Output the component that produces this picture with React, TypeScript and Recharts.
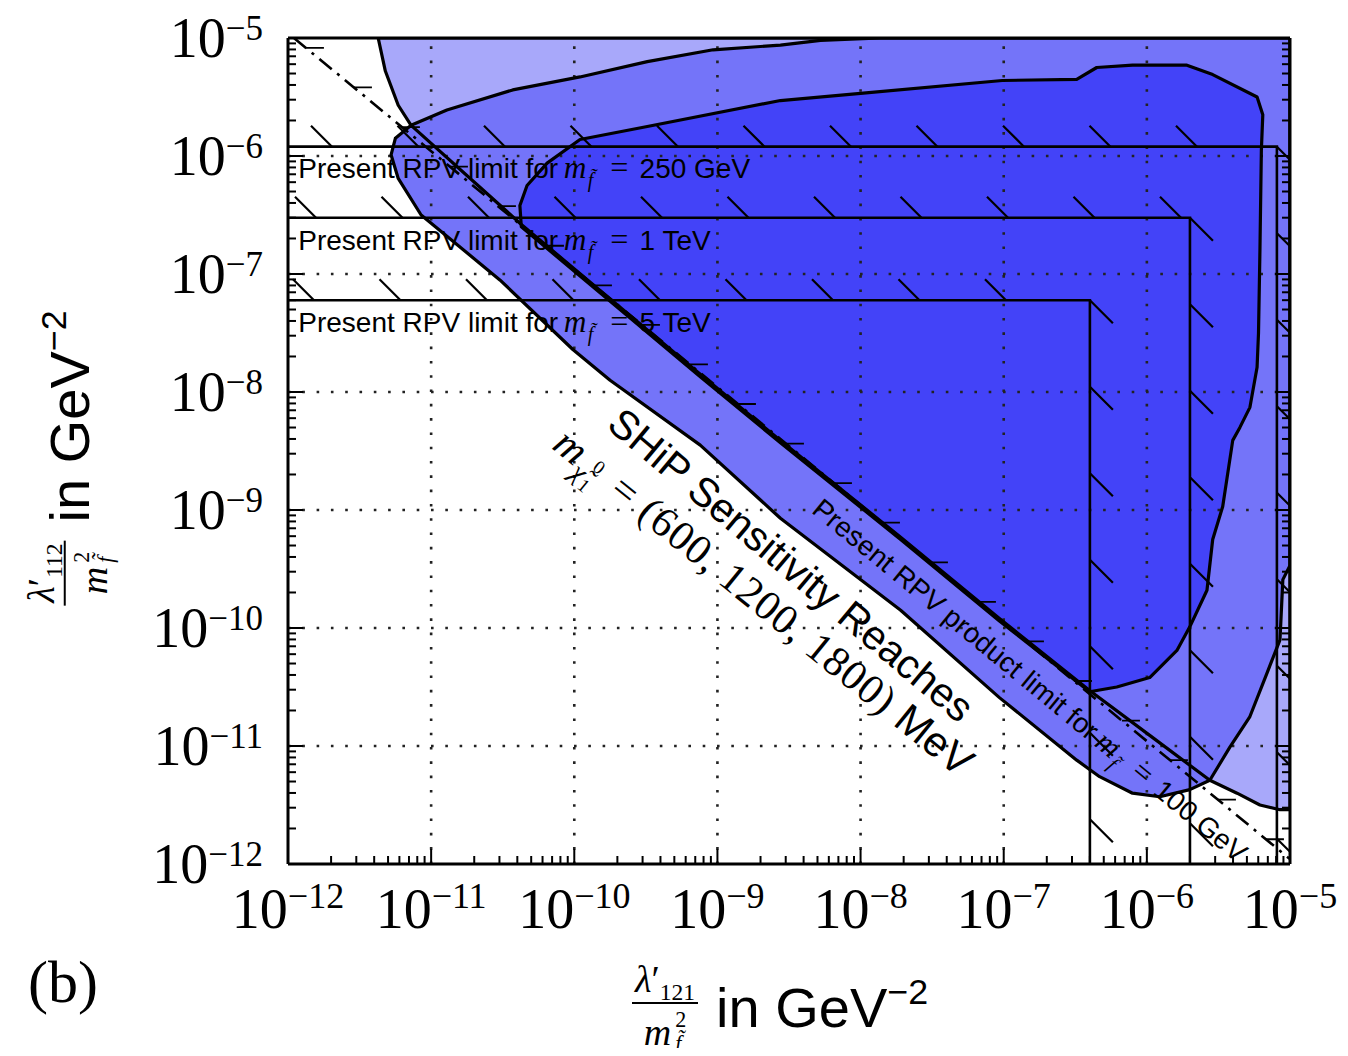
import React from 'react'
import { ScatterChart, Scatter, XAxis, YAxis, ReferenceLine, ReferenceDot } from 'recharts'

// contours, as [log10 x, log10 y]
const outerReach: [number, number][] = [
  [-11.37, -5.0], [-11.32, -5.28], [-11.23, -5.57], [-11.14, -5.74], [-10.37, -6.58], [-9.82, -7.14],
  [-9.12, -7.85], [-8.56, -8.41], [-7.72, -9.23], [-7.03, -9.92], [-6.4, -10.53], [-5.98, -10.91],
  [-5.56, -11.29], [-5.37, -11.4], [-5.21, -11.5], [-5.07, -11.54], [-5.0, -11.54], [-5.0, -5.0],
]
const middleReach: [number, number][] = [
  [-6.49, -11.12], [-7.03, -10.59], [-7.72, -9.85], [-8.56, -9.07], [-9.12, -8.45], [-9.75, -7.9],
  [-10.01, -7.64], [-10.52, -7.05], [-11.07, -6.5], [-11.23, -6.19], [-11.28, -5.99], [-11.25, -5.85],
  [-11.14, -5.74], [-10.89, -5.61], [-10.43, -5.44], [-9.96, -5.33], [-9.49, -5.2], [-9.03, -5.1],
  [-8.56, -5.06], [-8.28, -5.02], [-7.86, -5.0], [-5.0, -5.0], [-5.0, -9.47], [-5.05, -9.59],
  [-5.07, -10.1], [-5.16, -10.38], [-5.28, -10.75], [-5.42, -11.01], [-5.56, -11.29], [-5.7, -11.37],
  [-5.91, -11.43], [-6.1, -11.4], [-6.33, -11.26],
]
const innerReach: [number, number][] = [
  [-10.37, -6.6], [-10.38, -6.42], [-10.33, -6.25], [-10.19, -6.06], [-9.96, -5.86], [-9.49, -5.75],
  [-8.56, -5.53], [-8.0, -5.47], [-7.01, -5.36], [-6.49, -5.35], [-6.35, -5.25], [-6.1, -5.23],
  [-5.72, -5.23], [-5.54, -5.31], [-5.23, -5.5], [-5.19, -5.65], [-5.2, -5.95], [-5.21, -6.8],
  [-5.22, -7.5], [-5.23, -7.79], [-5.28, -8.13], [-5.35, -8.3], [-5.4, -8.41], [-5.47, -8.97],
  [-5.54, -9.25], [-5.58, -9.68], [-5.7, -9.99], [-5.79, -10.19], [-5.98, -10.42], [-6.21, -10.5],
  [-6.4, -10.54], [-7.03, -9.94], [-7.72, -9.25], [-8.56, -8.43], [-9.12, -7.87], [-9.82, -7.16],
]

// present single-coupling limits (lambda/m^2)
const limitMasses = ['250 GeV', '1 TeV', '5 TeV']
const limitY = [1.2e-6, 3.0e-7, 6.0e-8]
const limitX = [8.1e-6, 2.0e-6, 4.0e-7]

// present product limit for m = 100 GeV
const productLineX = [1.1e-12, 1.0e-5]
const productLineY = [1.0e-5, 1.1e-12]

const decades = [1e-12, 1e-11, 1e-10, 1e-9, 1e-8, 1e-7, 1e-6, 1e-5]
const minorSteps = [2, 3, 4, 5, 6, 7, 8, 9]

const DOMAIN: [number, number] = [1e-12, 1e-5]
const axisTicks = [...decades, ...decades.slice(0, -1).flatMap(d => minorSteps.map(m => m * d))].sort((a, b) => a - b)
const gridLines = decades.slice(1, -1)

const SANS = '"Liberation Sans", Arial, Helvetica, sans-serif'
const SERIF = '"Liberation Serif", "Times New Roman", serif'
const COLORS = { outer: '#a8a8fa', middle: '#7474f9', inner: '#4343f8' }
const AXIS_LINE = { stroke: '#000', strokeWidth: 3 }
const MAJOR = 15
const MINOR = 8

const toPoints = (arr: [number, number][]) => arr.map(([lx, ly]) => ({ x: 10 ** lx, y: 10 ** ly }))
const pathOf = (pts: { x: number; y: number }[]) => pts.map((p, i) => `${i ? 'L' : 'M'}${p.x},${p.y}`).join(' ')

const isDecade = (v: number) => Math.abs(Math.log10(v) - Math.round(Math.log10(v))) < 1e-6
const expLabel = (v: number) => {
  const e = Math.round(Math.log10(v))
  return e < 0 ? '\u2212' + Math.abs(e) : String(e)
}

function BottomTick({ x, y, payload }: any) {
  const major = isDecade(payload.value)
  return (
    <g>
      <line x1={x} x2={x} y1={y} y2={y - (major ? MAJOR : MINOR)} stroke="#000" strokeWidth={2} />
      {major && (
        <text x={x} y={y + 64} textAnchor="middle" fontFamily={SERIF} fontSize={56} fill="#000">
          10<tspan fontSize={36} dy={-20}>{expLabel(payload.value)}</tspan>
        </text>
      )}
    </g>
  )
}

function TopTick({ x, y, payload }: any) {
  const major = isDecade(payload.value)
  return <line x1={x} x2={x} y1={y} y2={y + (major ? MAJOR : MINOR)} stroke="#000" strokeWidth={2} />
}

function LeftTick({ x, y, payload }: any) {
  const major = isDecade(payload.value)
  return (
    <g>
      <line x1={x} x2={x + (major ? MAJOR : MINOR)} y1={y} y2={y} stroke="#000" strokeWidth={2} />
      {major && (
        <text x={x - 25} y={y + 19} textAnchor="end" fontFamily={SERIF} fontSize={56} fill="#000">
          10<tspan fontSize={35} dy={-17}>{expLabel(payload.value)}</tspan>
        </text>
      )}
    </g>
  )
}

function RightTick({ x, y, payload }: any) {
  const major = isDecade(payload.value)
  return <line x1={x} x2={x - (major ? MAJOR : MINOR)} y1={y} y2={y} stroke="#000" strokeWidth={2} />
}

const fillShape = (color: string) => (props: any) =>
  props.points ? <path d={pathOf(props.points) + ' Z'} fill={color} stroke="none" /> : null

const outlineShape = (props: any) =>
  props.points ? (
    <path d={pathOf(props.points) + ' Z'} fill="none" stroke="#000" strokeWidth={3.2} strokeLinejoin="round" />
  ) : null

const HATCH = 21
const HATCH_GAP = 86.5
const hatchPhase = [44, 28, 26]

const limitShape = (phase: number) => (props: any) => {
  const pts = props.points
  if (!pts || pts.length < 3) return null
  const [p0, p1, p2] = pts
  const marks: string[] = []
  for (let hx = p0.x + phase; hx <= p1.x; hx += HATCH_GAP) marks.push(`M${hx - HATCH},${p0.y - HATCH} L${hx},${p0.y}`)
  for (let hy = p1.y; hy <= p2.y; hy += HATCH_GAP) marks.push(`M${p1.x},${hy} L${p1.x + HATCH + 2},${hy + HATCH + 2}`)
  return (
    <g>
      <path d={pathOf(pts)} fill="none" stroke="#000" strokeWidth={2.6} />
      <path d={marks.join(' ')} fill="none" stroke="#000" strokeWidth={2.2} />
    </g>
  )
}

const productShape = (props: any) => {
  const pts = props.points
  if (!pts || pts.length < 2) return null
  const [a, b] = pts
  const marks: string[] = []
  for (let hx = a.x + 12; hx <= b.x; hx += 48) {
    const hy = a.y + ((hx - a.x) * (b.y - a.y)) / (b.x - a.x)
    marks.push(`M${hx},${hy} L${hx + 18},${hy}`)
  }
  return (
    <g>
      <path d={pathOf(pts)} fill="none" stroke="#000" strokeWidth={2.6} strokeDasharray="16 7 3 7" />
      <path d={marks.join(' ')} fill="none" stroke="#000" strokeWidth={1.8} />
    </g>
  )
}

const noDot = () => <g />

// "m_f~ = value" in math style
const MathMass = ({ size, value }: { size: number; value: string }) => (
  <>
    <tspan dx={size * 0.2} fontFamily={SERIF} fontStyle="italic" fontSize={size * 1.12}>m</tspan>
    <tspan dx={size * 0.05} fontFamily={SERIF} fontStyle="italic" fontSize={size * 0.72} dy={size * 0.32}>{'f\u0303'}</tspan>
    <tspan dx={size * 0.6} dy={-size * 0.32} fontFamily={SERIF} fontSize={size * 1.15}>=</tspan>
    <tspan dx={size * 0.4}>{value}</tspan>
  </>
)

const limitText = (mass: string) => (p: any) => (
  <text x={p.cx} y={p.cy} fontFamily={SANS} fontSize={28} fill="#000">
    Present RPV limit for<MathMass size={28} value={mass} />
  </text>
)

const shipText = (p: any) => (
  <text x={p.cx} y={p.cy + 14} transform={`rotate(40 ${p.cx} ${p.cy})`} textAnchor="middle" fontFamily={SANS} fontSize={41} fill="#000">
    SHiP Sensitivity Reaches
  </text>
)

const massText = (p: any) => (
  <text x={p.cx} y={p.cy + 13} transform={`rotate(39 ${p.cx} ${p.cy})`} textAnchor="middle" fontFamily={SERIF} fontSize={42} letterSpacing={1} fill="#000">
    <tspan fontStyle="italic">m</tspan>
    <tspan fontSize={28} fontStyle="italic" dy={10}>{'\u03c7\u0303'}</tspan>
    <tspan fontSize={19} dy={5}>1</tspan>
    <tspan fontSize={19} dx={-10} dy={-24}>0</tspan>
    <tspan dy={9} dx={6}> = (600, 1200, 1800) </tspan>
    <tspan fontFamily={SANS} letterSpacing={0}>MeV</tspan>
  </text>
)

const productText = (p: any) => (
  <text x={p.cx} y={p.cy + 10} transform={`rotate(39.5 ${p.cx} ${p.cy})`} textAnchor="middle" fontFamily={SANS} fontSize={28} fill="#000">
    Present RPV product limit for<MathMass size={28} value="100 GeV" />
  </text>
)

// where the annotations sit, in data space
const limitTextAt = [[1.18e-12, 6.5e-7], [1.18e-12, 1.6e-7], [1.18e-12, 3.2e-8]]
const shipTextAt = [3.27e-9, 3.42e-10]
const massTextAt = [2.08e-9, 1.63e-10]
const productTextAt = [1.53e-7, 3.62e-11]

function Frac({ sub, size }: { sub: string; size: number }) {
  return (
    <span style={{ display: 'inline-flex', flexDirection: 'column', alignItems: 'center', fontFamily: SERIF, fontSize: size, lineHeight: 1 }}>
      <span style={{ borderBottom: '2px solid #000', padding: '0 3px 4px' }}>
        <i>λ</i>′<span style={{ fontSize: size * 0.62, position: 'relative', top: size * 0.22 }}>{sub}</span>
      </span>
      <span style={{ paddingTop: 4, display: 'inline-flex', alignItems: 'center' }}>
        <i>m</i>
        <span style={{ display: 'inline-flex', flexDirection: 'column', fontSize: size * 0.58, lineHeight: 1.1, marginLeft: 4 }}>
          <span>2</span>
          <i>{'f\u0303'}</i>
        </span>
      </span>
    </span>
  )
}

const GeV = ({ size }: { size: number }) => (
  <span style={{ fontFamily: SANS, fontSize: size, lineHeight: 1, marginLeft: 18, whiteSpace: 'nowrap' }}>
    in GeV<span style={{ fontSize: size * 0.64, position: 'relative', top: -size * 0.42 }}>−2</span>
  </span>
)

export default function App() {
  const limitData = limitY.map((ly, i) => [
    { x: DOMAIN[0], y: ly },
    { x: limitX[i], y: ly },
    { x: limitX[i], y: DOMAIN[0] },
  ])
  const productData = productLineX.map((x, i) => ({ x, y: productLineY[i] }))
  const regions = [
    { key: 'outer', data: toPoints(outerReach), color: COLORS.outer },
    { key: 'middle', data: toPoints(middleReach), color: COLORS.middle },
    { key: 'inner', data: toPoints(innerReach), color: COLORS.inner },
  ]
  const axisCommon = {
    type: 'number' as const,
    scale: 'log' as const,
    domain: DOMAIN,
    allowDataOverflow: true,
    ticks: axisTicks,
    interval: 0,
    tickLine: false,
    tickSize: 0,
    tickMargin: 0,
    axisLine: AXIS_LINE,
  }

  return (
    <div style={{ position: 'relative', width: 1332, height: 1040 }}>
      <ScatterChart width={1332} height={1040} margin={{ top: 29, right: 49, bottom: 0, left: 0 }}>
        {regions.map(r => (
          <Scatter key={'f' + r.key} xAxisId="b" yAxisId="l" data={r.data} line={fillShape(r.color)} lineType="joint" shape={noDot} isAnimationActive={false} zIndex={100} />
        ))}
        {gridLines.map(v => (
          <ReferenceLine key={'gx' + v} xAxisId="b" yAxisId="l" x={v} stroke="#222" strokeWidth={2.6} strokeDasharray="2.6 11.7" zIndex={150} />
        ))}
        {gridLines.map(v => (
          <ReferenceLine key={'gy' + v} xAxisId="b" yAxisId="l" y={v} stroke="#222" strokeWidth={2.6} strokeDasharray="2.6 11.7" zIndex={150} />
        ))}
        {regions.map(r => (
          <Scatter key={'o' + r.key} xAxisId="b" yAxisId="l" data={r.data} line={outlineShape} lineType="joint" shape={noDot} isAnimationActive={false} zIndex={200} />
        ))}
        {limitData.map((d, i) => (
          <Scatter key={'lim' + i} xAxisId="b" yAxisId="l" data={d} line={limitShape(hatchPhase[i])} lineType="joint" shape={noDot} isAnimationActive={false} zIndex={250} />
        ))}
        <Scatter xAxisId="b" yAxisId="l" data={productData} line={productShape} lineType="joint" shape={noDot} isAnimationActive={false} zIndex={250} />

        <XAxis xAxisId="b" dataKey="x" height={184} tick={BottomTick} {...axisCommon} zIndex={300} />
        <XAxis xAxisId="t" orientation="top" height={1} tick={TopTick} {...axisCommon} zIndex={300} />
        <YAxis yAxisId="l" dataKey="y" width={280} tick={LeftTick} {...axisCommon} zIndex={300} />
        <YAxis yAxisId="r" orientation="right" width={1} tick={RightTick} {...axisCommon} zIndex={300} />

        {limitMasses.map((m, i) => (
          <ReferenceDot key={'lt' + m} xAxisId="b" yAxisId="l" x={limitTextAt[i][0]} y={limitTextAt[i][1]} r={0} ifOverflow="visible" shape={limitText(m)} zIndex={400} />
        ))}
        <ReferenceDot xAxisId="b" yAxisId="l" x={shipTextAt[0]} y={shipTextAt[1]} r={0} ifOverflow="visible" shape={shipText} zIndex={400} />
        <ReferenceDot xAxisId="b" yAxisId="l" x={massTextAt[0]} y={massTextAt[1]} r={0} ifOverflow="visible" shape={massText} zIndex={400} />
        <ReferenceDot xAxisId="b" yAxisId="l" x={productTextAt[0]} y={productTextAt[1]} r={0} ifOverflow="visible" shape={productText} zIndex={400} />
      </ScatterChart>

      {/* axis titles */}
      <div style={{ position: 'absolute', left: 624, top: 952, display: 'flex', alignItems: 'center' }}>
        <Frac sub="121" size={38} />
        <GeV size={56} />
      </div>
      <div
        style={{
          position: 'absolute', left: 62, top: 450, display: 'flex', alignItems: 'center',
          transform: 'translate(-50%, -50%) rotate(-90deg)', whiteSpace: 'nowrap',
        }}
      >
        <Frac sub="112" size={38} />
        <GeV size={56} />
      </div>
      <div style={{ position: 'absolute', left: 20, top: 944, fontFamily: SERIF, fontSize: 60, lineHeight: 1 }}>(b)</div>
    </div>
  )
}
